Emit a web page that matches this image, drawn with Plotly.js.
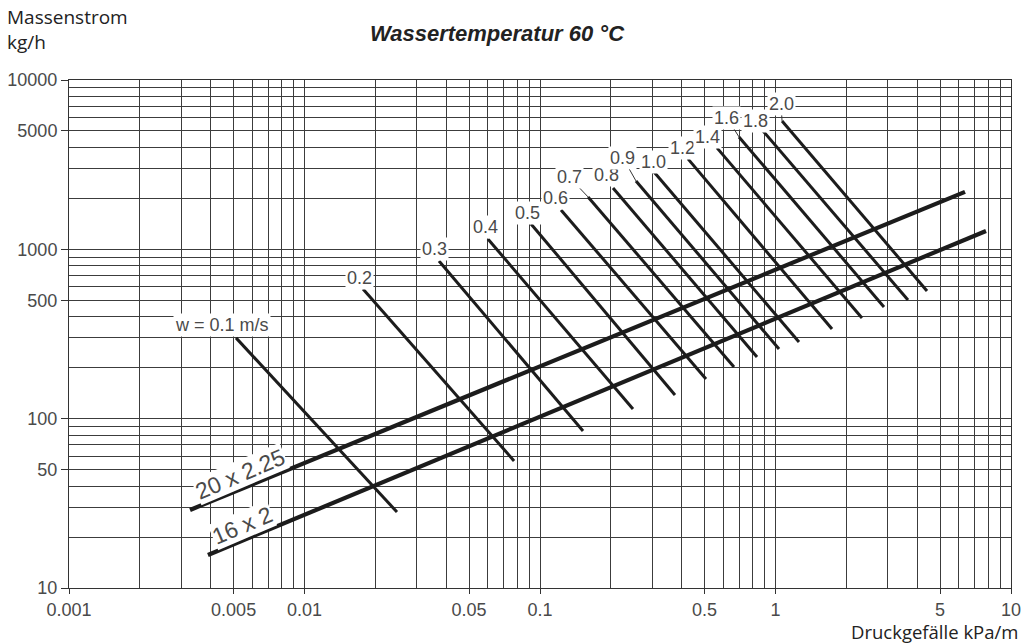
<!DOCTYPE html>
<html>
<head>
<meta charset="utf-8">
<script src="https://cdn.plot.ly/plotly-3.0.1.min.js"></script>
<style>
  html, body { margin: 0; padding: 0; background: #fff; }
  #chart { width: 1030px; height: 644px; }
</style>
</head>
<body>
<div id="chart"></div>
<script>
// ---------- data ----------
const xTickVals = [0.001, 0.005, 0.01, 0.05, 0.1, 0.5, 1, 5, 10];
const xTickText = ['0.001', '0.005', '0.01', '0.05', '0.1', '0.5', '1', '5', '10'];
const yTickVals = [10, 50, 100, 500, 1000, 5000, 10000];
const yTickText = ['10', '50', '100', '500', '1000', '5000', '10000'];

// velocity lines: pressure drop (kPa/m) and mass flow (kg/h) at both ends
const velLabels  = ['w = 0.1 m/s', '0.2', '0.3', '0.4', '0.5', '0.6', '0.7', '0.8', '0.9', '1.0', '1.2', '1.4', '1.6', '1.8', '2.0'];
const velStartDp = [0.00512, 0.01772, 0.03725, 0.0601, 0.0916, 0.1228, 0.160, 0.2042, 0.2556, 0.3049, 0.425, 0.5643, 0.6998, 0.885, 1.066];
const velStartM  = [300, 584, 854, 1152, 1413, 1709, 2039, 2305, 2535, 2865, 3420, 3972, 4612, 5005, 5733];
const velEndDp   = [0.0247, 0.0776, 0.1523, 0.2482, 0.3742, 0.5068, 0.6665, 0.8346, 1.035, 1.258, 1.738, 2.329, 2.888, 3.652, 4.399];
const velEndM    = [28.1, 56.3, 84.6, 114.1, 138.0, 171.6, 202, 231.4, 258.0, 283.8, 338.7, 393.3, 456.9, 502.5, 567.9];

// pipe lines
const pipeLabels  = ['20 x 2.25', '16 x 2'];
const pipeStartDp = [0.003265, 0.00389];
const pipeStartM  = [28.9, 15.66];
const pipeEndDp   = [6.378, 7.83];
const pipeEndM    = [2183, 1284];

// ---------- styles / label placement ----------
const labelStyle = [ // [ax, ay, leader]
  [-14, -13, false], [-4, -11, false], [-5, -12, false], [-2, -12, false], [-4, -11, false],
  [-6, -12, false], [-19, -20, true], [-7, -13, false], [-13, -23, true], [-1, -10, false],
  [-5, -11, false], [-9, -11, false], [-12, -19, true], [-8, -10, false], [-1, -17, true]
];
const pipeLabelT = [0.065, 0.045];
const LINE = '#1c1c1c';
const GRID = '#3c3c3c';
const TXT = '#4a4a4a';

// grid values for log axes (1..9 per decade)
function logGrid(d0, d1) {
  const v = [];
  for (let d = d0; d < d1; d++) for (let k = 1; k <= 9; k++) v.push(+(k * Math.pow(10, d)).toPrecision(3));
  v.push(Math.pow(10, d1));
  return v;
}

const traces = [];
velLabels.forEach((lab, i) => {
  traces.push({
    type: 'scatter', mode: 'lines', hoverinfo: 'skip', showlegend: false,
    x: [velStartDp[i], velEndDp[i]], y: [velStartM[i], velEndM[i]],
    line: { color: LINE, width: 3 }
  });
});
pipeLabels.forEach((lab, i) => {
  traces.push({
    type: 'scatter', mode: 'lines', hoverinfo: 'skip', showlegend: false,
    x: [pipeStartDp[i], pipeEndDp[i]], y: [pipeStartM[i], pipeEndM[i]],
    line: { color: LINE, width: 4.2 }
  });
});

const annotations = [];
velLabels.forEach((lab, i) => {
  const s = labelStyle[i];
  annotations.push({
    x: Math.log10(velStartDp[i]), y: Math.log10(velStartM[i]), xref: 'x', yref: 'y',
    text: lab, showarrow: true, ax: s[0], ay: s[1], arrowhead: 0, standoff: 0,
    arrowwidth: 1, arrowcolor: s[2] ? '#333' : 'rgba(0,0,0,0)',
    bgcolor: '#ffffff', borderpad: 1,
    font: { family: 'Liberation Sans, Arial, sans-serif', size: 18, color: TXT }
  });
});
pipeLabels.forEach((lab, i) => {
  const t = pipeLabelT[i];
  const lx = Math.log10(pipeStartDp[i]) + t * (Math.log10(pipeEndDp[i]) - Math.log10(pipeStartDp[i]));
  const ly = Math.log10(pipeStartM[i]) + t * (Math.log10(pipeEndM[i]) - Math.log10(pipeStartM[i]));
  annotations.push({
    x: lx, y: ly, xref: 'x', yref: 'y', text: lab, showarrow: false,
    textangle: -23, yshift: 15, bgcolor: '#ffffff', borderpad: 0,
    font: { family: 'Liberation Sans, Arial, sans-serif', size: 23, color: TXT }
  });
});
annotations.push({
  xref: 'paper', yref: 'paper', x: -0.068, y: 1.099, xanchor: 'left', yanchor: 'middle', align: 'left',
  text: 'Massenstrom<br>kg/h', showarrow: false,
  font: { family: 'Open Sans, sans-serif', size: 19, color: '#222' }
});
annotations.push({
  xref: 'paper', yref: 'paper', x: 1.0096, y: -0.0866, xanchor: 'right', yanchor: 'middle',
  text: 'Druckgefälle kPa/m', showarrow: false,
  font: { family: 'Open Sans, sans-serif', size: 18.5, color: '#222' }
});

const axisCommon = {
  type: 'log', showline: true, mirror: true, linecolor: '#333', linewidth: 1,
  showgrid: true, gridcolor: GRID, gridwidth: 1,
  ticks: 'outside', tickcolor: '#333', tickwidth: 1,
  tickmode: 'array',
  tickfont: { family: 'Liberation Sans, Arial, sans-serif', size: 18, color: TXT },
  zeroline: false, fixedrange: true
};

const layout = {
  width: 1030, height: 644,
  margin: { l: 69, r: 19, t: 80, b: 56 },
  paper_bgcolor: '#fff', plot_bgcolor: '#fff',
  showlegend: false,
  title: {
    text: '<b><i>Wassertemperatur 60 °C</i></b>',
    x: 0.4825, xanchor: 'center', y: 0.949, yanchor: 'middle',
    font: { family: 'Liberation Sans, Arial, sans-serif', size: 22, color: '#222' }
  },
  xaxis: Object.assign({}, axisCommon, {
    range: [-3, 1], tickvals: xTickVals, ticktext: xTickText, ticklen: 5, ticklabelstandoff: 0,
    minor: { tickmode: 'array', tickvals: logGrid(-3, 1), showgrid: true, gridcolor: GRID, gridwidth: 1, ticks: '' }
  }),
  yaxis: Object.assign({}, axisCommon, {
    range: [1, 4], tickvals: yTickVals, ticktext: yTickText, ticklen: 7,
    minor: { tickmode: 'array', tickvals: logGrid(1, 4), showgrid: true, gridcolor: GRID, gridwidth: 1, ticks: '' }
  }),
  annotations: annotations
};

Plotly.newPlot('chart', traces, layout, { displayModeBar: false, staticPlot: true });
</script>
</body>
</html>
